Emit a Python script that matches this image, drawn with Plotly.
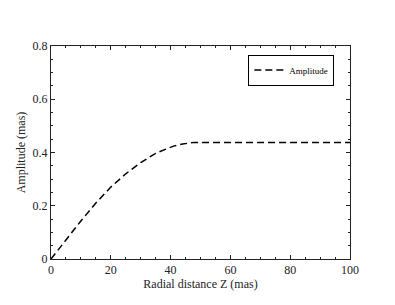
import plotly.graph_objects as go

radial_z = [0, 5, 10, 15, 20, 25, 30, 35, 38, 41, 44, 46, 48, 50, 60, 70, 80, 90, 100]
amplitude = [0, 0.072, 0.143, 0.21, 0.27, 0.32, 0.362, 0.397, 0.412, 0.424, 0.432, 0.436, 0.438, 0.438, 0.438, 0.438, 0.438, 0.438, 0.438]

x_ticks = [0, 20, 40, 60, 80, 100]
x_labels = ["0", "20", "40", "60", "80", "100"]
y_ticks = [0, 0.2, 0.4, 0.6, 0.8]
y_labels = ["0", "0.2", "0.4", "0.6", "0.8"]

fig = go.Figure()
fig.add_trace(go.Scatter(
    x=radial_z, y=amplitude, mode="lines", name="Amplitude",
    line=dict(color="black", width=1.5, dash="7px,4px"),
))

font = "Liberation Serif, Times New Roman, serif"
axis_common = dict(
    showgrid=False, zeroline=False, showline=True, linecolor="#222", linewidth=1,
    mirror="allticks", ticks="inside", ticklen=4, tickcolor="#222", tickwidth=1,
    tickfont=dict(family=font, size=12, color="#222"),
)
fig.update_xaxes(
    range=[0, 100], tickmode="array", tickvals=x_ticks, ticktext=x_labels,
    minor=dict(dtick=5, ticks="inside", ticklen=2, tickcolor="#222", showgrid=False),
    title=dict(text="Radial distance Z (mas)", font=dict(family=font, size=12, color="#222"), standoff=0),
    **axis_common,
)
fig.update_yaxes(
    range=[0, 0.8], tickmode="array", tickvals=y_ticks, ticktext=y_labels,
    minor=dict(dtick=0.05, ticks="inside", ticklen=2, tickcolor="#222", showgrid=False),
    title=dict(text="Amplitude (mas)", font=dict(family=font, size=12, color="#222"), standoff=4),
    **axis_common,
)
fig.update_layout(
    width=395, height=305,
    margin=dict(l=38, r=53, t=38, b=54),
    paper_bgcolor="white", plot_bgcolor="white",
    showlegend=True,
    legend=dict(
        x=0.66, y=0.96, xanchor="left", yanchor="top",
        bordercolor="black", borderwidth=1, bgcolor="white",
        font=dict(family=font, size=9, color="black"),
        itemwidth=30, tracegroupgap=0,
    ),
)
fig.write_html("out.html")
